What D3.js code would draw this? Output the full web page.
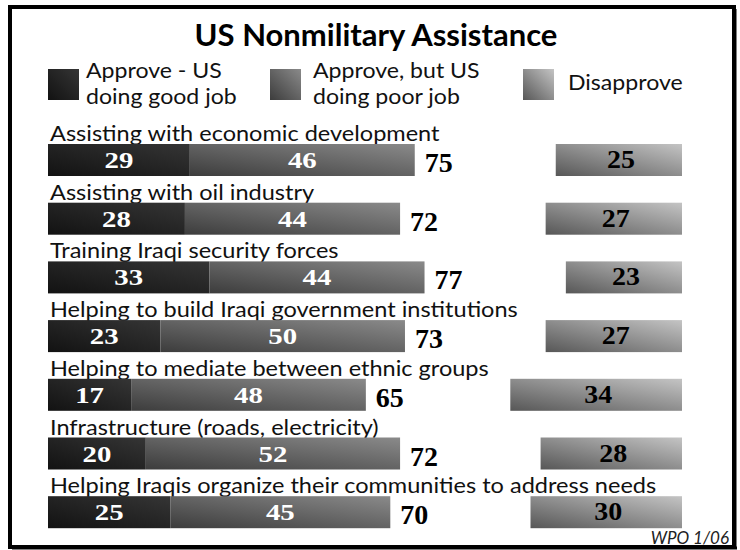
<!DOCTYPE html>
<html>
<head>
<meta charset="utf-8">
<script src="https://cdn.jsdelivr.net/npm/d3@7/dist/d3.min.js"></script>
<style>
  html, body { margin: 0; padding: 0; background: #fff; }
  svg { display: block; }
</style>
</head>
<body>
<svg id="chart" width="740" height="550"></svg>
<script>
const title = "US Nonmilitary Assistance";
const categories = [
  "Assisting with economic development",
  "Assisting with oil industry",
  "Training Iraqi security forces",
  "Helping to build Iraqi government institutions",
  "Helping to mediate between ethnic groups",
  "Infrastructure (roads, electricity)",
  "Helping Iraqis organize their communities to address needs"
];
const approveGood = [29, 28, 33, 23, 17, 20, 25];
const approvePoor = [46, 44, 44, 50, 48, 52, 45];
const approveTotal = [75, 72, 77, 73, 65, 72, 70];
const disapprove = [25, 27, 23, 27, 34, 28, 30];
const legendLabels = [
  ["Approve - US", "doing good job"],
  ["Approve, but US", "doing poor job"],
  ["Disapprove"]
];
const sourceNote = "WPO 1/06";

const svg = d3.select("#chart");
const sans = "Lato, 'Open Sans', sans-serif";
const serif = "'Liberation Serif', 'DejaVu Serif', serif";

// gradients
const defs = svg.append("defs");
function grad(id, c0, c1) {
  const g = defs.append("linearGradient").attr("id", id)
    .attr("x1", 0).attr("y1", 1).attr("x2", 1).attr("y2", 0);
  g.append("stop").attr("offset", "0%").attr("stop-color", c0);
  g.append("stop").attr("offset", "100%").attr("stop-color", c1);
}
grad("gDark", "#121212", "#353535");
grad("gMid", "#3c3c3c", "#8a8a8a");
grad("gDis", "#575757", "#c4c4c4");
const fills = ["url(#gDark)", "url(#gMid)", "url(#gDis)"];

// helper: text with horizontal stretch
function stext(parent, x, y, str, size, sx, opts = {}) {
  return parent.append("text")
    .attr("transform", `translate(${x},${y}) scale(${sx},1)`)
    .attr("font-family", opts.family || sans)
    .attr("font-size", size)
    .attr("font-weight", opts.weight || "normal")
    .attr("font-style", opts.style || "normal")
    .attr("text-anchor", opts.anchor || "start")
    .attr("fill", opts.fill || "#111")
    .text(str);
}

// frame
svg.append("rect").attr("x", 10).attr("y", 7).attr("width", 724).attr("height", 540)
  .attr("fill", "#fff").attr("stroke", "#000").attr("stroke-width", 4);
svg.append("line").attr("x1", 735).attr("x2", 735).attr("y1", 9).attr("y2", 549)
  .attr("stroke", "#000").attr("stroke-width", 3);
svg.append("line").attr("x1", 12).attr("x2", 737).attr("y1", 548).attr("y2", 548)
  .attr("stroke", "#000").attr("stroke-width", 3);

// title
stext(svg, 376, 46, title, 31, 1.0, { weight: "bold", anchor: "middle", fill: "#000" });

// legend
const legendX = [48, 270, 523];
const legendTextX = [86, 313, 568];
legendLabels.forEach((lines, i) => {
  svg.append("rect").attr("x", legendX[i]).attr("y", 69).attr("width", 31).attr("height", 31)
    .attr("fill", fills[i]);
  if (lines.length === 2) {
    lines.forEach((l, j) => stext(svg, legendTextX[i], 78 + j * 26, l, 22, 1.05));
  } else {
    stext(svg, legendTextX[i], 90, lines[0], 22, 1.05);
  }
});

// scales
const y = d3.scaleBand().domain(d3.range(categories.length)).range([144, 144 + 58.7 * 7]).padding(0);
const x = d3.scaleLinear().domain([0, 100]).range([48, 48 + 489]);
const xr = d3.scaleLinear().domain([0, 100]).range([0, 505]);
const disRight = 682;
const barH = 32;

const rows = svg.selectAll("g.row").data(categories).join("g").attr("class", "row")
  .attr("transform", (d, i) => `translate(0,${y(i)})`);

rows.each(function (d, i) {
  const g = d3.select(this);
  stext(g, 50, -3, d, 22, 1.07);

  g.append("rect").attr("x", x(0)).attr("y", 0)
    .attr("width", x(approveGood[i]) - x(0)).attr("height", barH).attr("fill", fills[0]);
  g.append("rect").attr("x", x(approveGood[i])).attr("y", 0)
    .attr("width", x(approveGood[i] + approvePoor[i]) - x(approveGood[i])).attr("height", barH).attr("fill", fills[1]);
  g.append("rect").attr("x", disRight - xr(disapprove[i])).attr("y", 0)
    .attr("width", xr(disapprove[i])).attr("height", barH).attr("fill", fills[2]);

  const num = { family: serif, weight: "bold", anchor: "middle" };
  stext(g, (x(0) + x(approveGood[i])) / 2, 24, approveGood[i], 24, 1.2, { ...num, fill: "#fff" });
  stext(g, (x(approveGood[i]) + x(approveGood[i] + approvePoor[i])) / 2, 24, approvePoor[i], 24, 1.2, { ...num, fill: "#fff" });
  stext(g, x(approveTotal[i]) + 10, 28, approveTotal[i], 28, 1.0, { ...num, anchor: "start", fill: "#000" });
  stext(g, disRight - xr(disapprove[i]) / 2 + 2, 24, disapprove[i], 25, 1.12, { ...num, fill: "#000" });
});

// source
stext(svg, 729, 544, sourceNote, 17, 1.0, { style: "italic", anchor: "end", fill: "#222" });
</script>
</body>
</html>
